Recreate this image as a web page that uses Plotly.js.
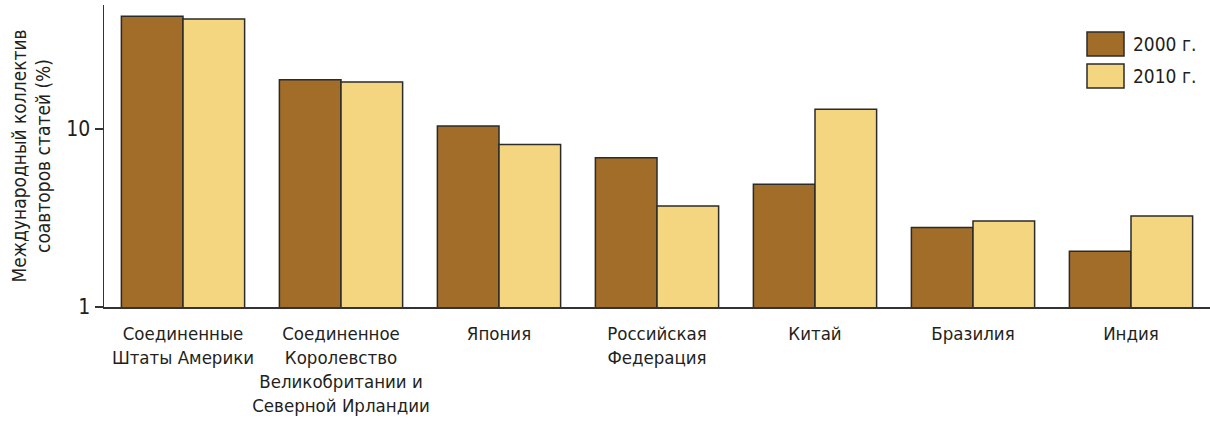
<!DOCTYPE html>
<html>
<head>
<meta charset="utf-8">
<script src="https://cdn.plot.ly/plotly-3.0.1.min.js"></script>
<style>
  html, body { margin: 0; padding: 0; background: #fff; }
  #chart { width: 1210px; height: 430px; }
</style>
</head>
<body>
<div id="chart"></div>
<script>
// Countries (tick labels, with line breaks as set on the axis)
const countries = [
  'Соединенные<br>Штаты Америки',
  'Соединенное<br>Королевство<br>Великобритании и<br>Северной Ирландии',
  'Япония',
  'Российская<br>Федерация',
  'Китай',
  'Бразилия',
  'Индия'
];

// Share of internationally co-authored articles, %
const series2000 = [43.1, 18.9, 10.4, 6.9, 4.9, 2.8, 2.06];
const series2010 = [41.5, 18.4, 8.2, 3.7, 12.9, 3.04, 3.25];

const seriesNames = ['2000 г.', '2010 г.'];
const yTickValues = [1, 10];
const yTickLabels = ['1', '10'];

const FONT = '"DejaVu Sans Condensed", "Liberation Sans Narrow", sans-serif';
const COL2000 = '#a26c29';
const COL2010 = '#f5d680';
const EDGE = '#2b2b2b';

const traces = [
  {
    type: 'bar', name: seriesNames[0], x: countries, y: series2000,
    marker: { color: COL2000, line: { color: EDGE, width: 1.5 } },
    showlegend: false, hoverinfo: 'x+y'
  },
  {
    type: 'bar', name: seriesNames[1], x: countries, y: series2010,
    marker: { color: COL2010, line: { color: EDGE, width: 1.5 } },
    showlegend: false, hoverinfo: 'x+y'
  }
];

// Legend: large swatches with labels, top-right corner
const legendColors = [COL2000, COL2010];
const shapes = [];
const annotations = [];
seriesNames.forEach((name, i) => {
  const top = 32 + i * 32;
  shapes.push({
    type: 'rect', xref: 'paper', yref: 'paper',
    x0: (1087 - 104) / 1106, x1: (1124 - 104) / 1106,
    y0: 1 - (top + 24 - 5) / 302, y1: 1 - (top - 5) / 302,
    fillcolor: legendColors[i], line: { color: EDGE, width: 1.5 }
  });
  annotations.push({
    xref: 'paper', yref: 'paper',
    x: (1131 - 104) / 1106, y: 1 - (top + 12 - 5) / 302,
    xanchor: 'left', yanchor: 'middle', showarrow: false,
    text: name, font: { family: FONT, size: 19, color: '#231f20' }
  });
});

const layout = {
  width: 1210, height: 430,
  margin: { l: 104, r: 0, t: 5, b: 123, pad: 0 },
  paper_bgcolor: '#fff', plot_bgcolor: '#fff',
  font: { family: FONT, size: 18, color: '#231f20' },
  barmode: 'group', bargap: 0.22, bargroupgap: 0,
  xaxis: {
    type: 'category', range: [-0.5, 6.5],
    showline: true, linecolor: '#333', linewidth: 1.5,
    ticks: '', showgrid: false, zeroline: false,
    tickangle: 0, automargin: false, ticklabelstandoff: 9,
    tickfont: { family: FONT, size: 18.5, color: '#231f20' },
    fixedrange: true
  },
  yaxis: {
    type: 'log', range: [0, 1.697],
    tickvals: yTickValues, ticktext: yTickLabels,
    showline: true, linecolor: '#333', linewidth: 1.5,
    ticks: 'outside', ticklen: 8, tickwidth: 1.5, tickcolor: '#333',
    showgrid: false, zeroline: false, automargin: false,
    tickfont: { family: FONT, size: 21, color: '#231f20' },
    title: {
      text: 'Международный коллектив<br>соавторов статей (%)',
      font: { family: FONT, size: 19, color: '#231f20' },
      standoff: 10
    },
    fixedrange: true
  },
  shapes: shapes,
  annotations: annotations
};

Plotly.newPlot('chart', traces, layout, { displayModeBar: false, staticPlot: true });
</script>
</body>
</html>
